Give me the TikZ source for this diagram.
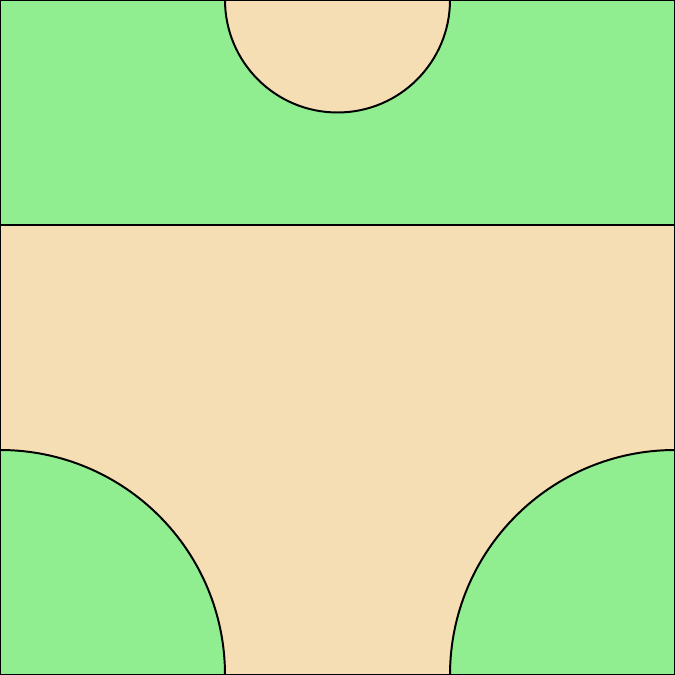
\documentclass[tikz,border=0pt]{standalone}
\usepackage{tikz}
\definecolor{grassgreen}{HTML}{90EE90}
\definecolor{sandwheat}{HTML}{F5DEB3}

\begin{document}
\begin{tikzpicture}[x=3cm,y=3cm,
 land/.style={fill=grassgreen,draw=black,line width=0.75pt},
 sand/.style={fill=sandwheat,draw=black,line width=0.75pt}]
\useasboundingbox (0,0) rectangle (3,3);
\draw[sand] (0,0) rectangle (3,2);
\draw[land] (0,2) rectangle (3,3);
\draw[sand] (1,3) arc[start angle=180,end angle=360,radius=1.5cm] -- cycle;
\draw[land] (0,1) arc[start angle=90,end angle=0,radius=3cm] -- (0,0) -- cycle;
\draw[land] (3,1) arc[start angle=90,end angle=180,radius=3cm] -- (3,0) -- cycle;
\end{tikzpicture}
\end{document}
